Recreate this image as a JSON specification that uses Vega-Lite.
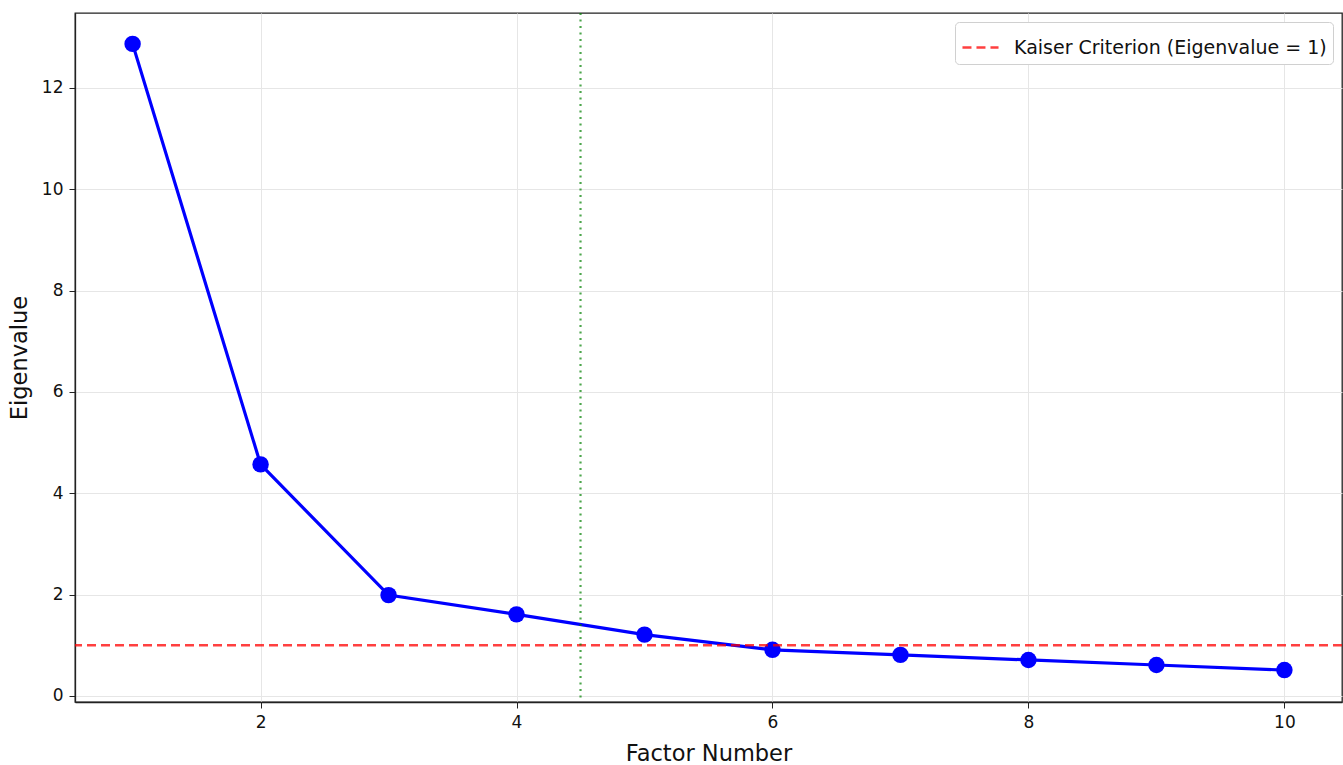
{
  "$schema": "https://vega.github.io/schema/vega-lite/v6.json",
  "width": 1267,
  "height": 689,
  "autosize": {"type": "none"},
  "padding": {"left": 75, "top": 13, "right": 1, "bottom": 63},
  "background": "white",
  "config": {
    "font": "DejaVu Sans",
    "view": {"stroke": "#222", "strokeWidth": 1.3},
    "axis": {
      "domainColor": "#222",
      "domainWidth": 1.3,
      "tickColor": "#222",
      "tickSize": 6,
      "labelFontSize": 17,
      "labelColor": "#111",
      "titleFontSize": 22.5,
      "titleFontWeight": "normal",
      "titleColor": "#111",
      "gridColor": "#e6e6e6",
      "gridWidth": 1
    }
  },
  "datasets": {
    "eig": [
      {"factor": 1, "eigenvalue": 12.87},
      {"factor": 2, "eigenvalue": 4.57},
      {"factor": 3, "eigenvalue": 1.99},
      {"factor": 4, "eigenvalue": 1.61},
      {"factor": 5, "eigenvalue": 1.21},
      {"factor": 6, "eigenvalue": 0.91},
      {"factor": 7, "eigenvalue": 0.81},
      {"factor": 8, "eigenvalue": 0.71},
      {"factor": 9, "eigenvalue": 0.61},
      {"factor": 10, "eigenvalue": 0.51}
    ],
    "kaiser": [{"y": 1, "label": "Kaiser Criterion (Eigenvalue = 1)"}],
    "cut": [{"x": 4.5}]
  },
  "layer": [
    {
      "data": {"name": "eig"},
      "mark": {"type": "line", "color": "#0000ff", "strokeWidth": 3.2, "clip": true},
      "encoding": {
        "x": {
          "field": "factor", "type": "quantitative",
          "scale": {"domain": [0.55, 10.45], "nice": false, "zero": false},
          "axis": {"values": [2, 4, 6, 8, 10], "format": "d", "title": "Factor Number", "titlePadding": 12, "labelPadding": 6}
        },
        "y": {
          "field": "eigenvalue", "type": "quantitative",
          "scale": {"domain": [-0.12, 13.48], "nice": false, "zero": false},
          "axis": {"values": [0, 2, 4, 6, 8, 10, 12], "format": "d", "title": "Eigenvalue", "titlePadding": 10, "labelPadding": 6}
        }
      }
    },
    {
      "data": {"name": "eig"},
      "mark": {"type": "point", "filled": true, "color": "#0000ff", "opacity": 1, "size": 270, "shape": "circle"},
      "encoding": {
        "x": {"field": "factor", "type": "quantitative"},
        "y": {"field": "eigenvalue", "type": "quantitative"}
      }
    },
    {
      "data": {"name": "kaiser"},
      "mark": {"type": "rule", "strokeWidth": 2.4, "strokeDash": [9, 5], "opacity": 0.75},
      "encoding": {
        "y": {"field": "y", "type": "quantitative"},
        "color": {
          "field": "label", "type": "nominal",
          "scale": {"range": ["#ff0000"]},
          "legend": {
            "title": null,
            "orient": "top-right",
            "offset": 9,
            "symbolType": "stroke",
            "symbolStrokeWidth": 2.4,
            "symbolDash": [9, 5],
            "symbolSize": 1300,
            "symbolOpacity": 0.75,
            "labelFontSize": 19,
            "labelColor": "#111",
            "labelLimit": 0,
            "labelOffset": 14,
            "fillColor": "white",
            "strokeColor": "#d0d0d0",
            "cornerRadius": 4,
            "padding": 6
          }
        }
      }
    },
    {
      "data": {"name": "cut"},
      "mark": {"type": "rule", "color": "#008000", "strokeWidth": 2.2, "strokeDash": [2, 4.5], "opacity": 0.7},
      "encoding": {"x": {"field": "x", "type": "quantitative"}}
    }
  ]
}
